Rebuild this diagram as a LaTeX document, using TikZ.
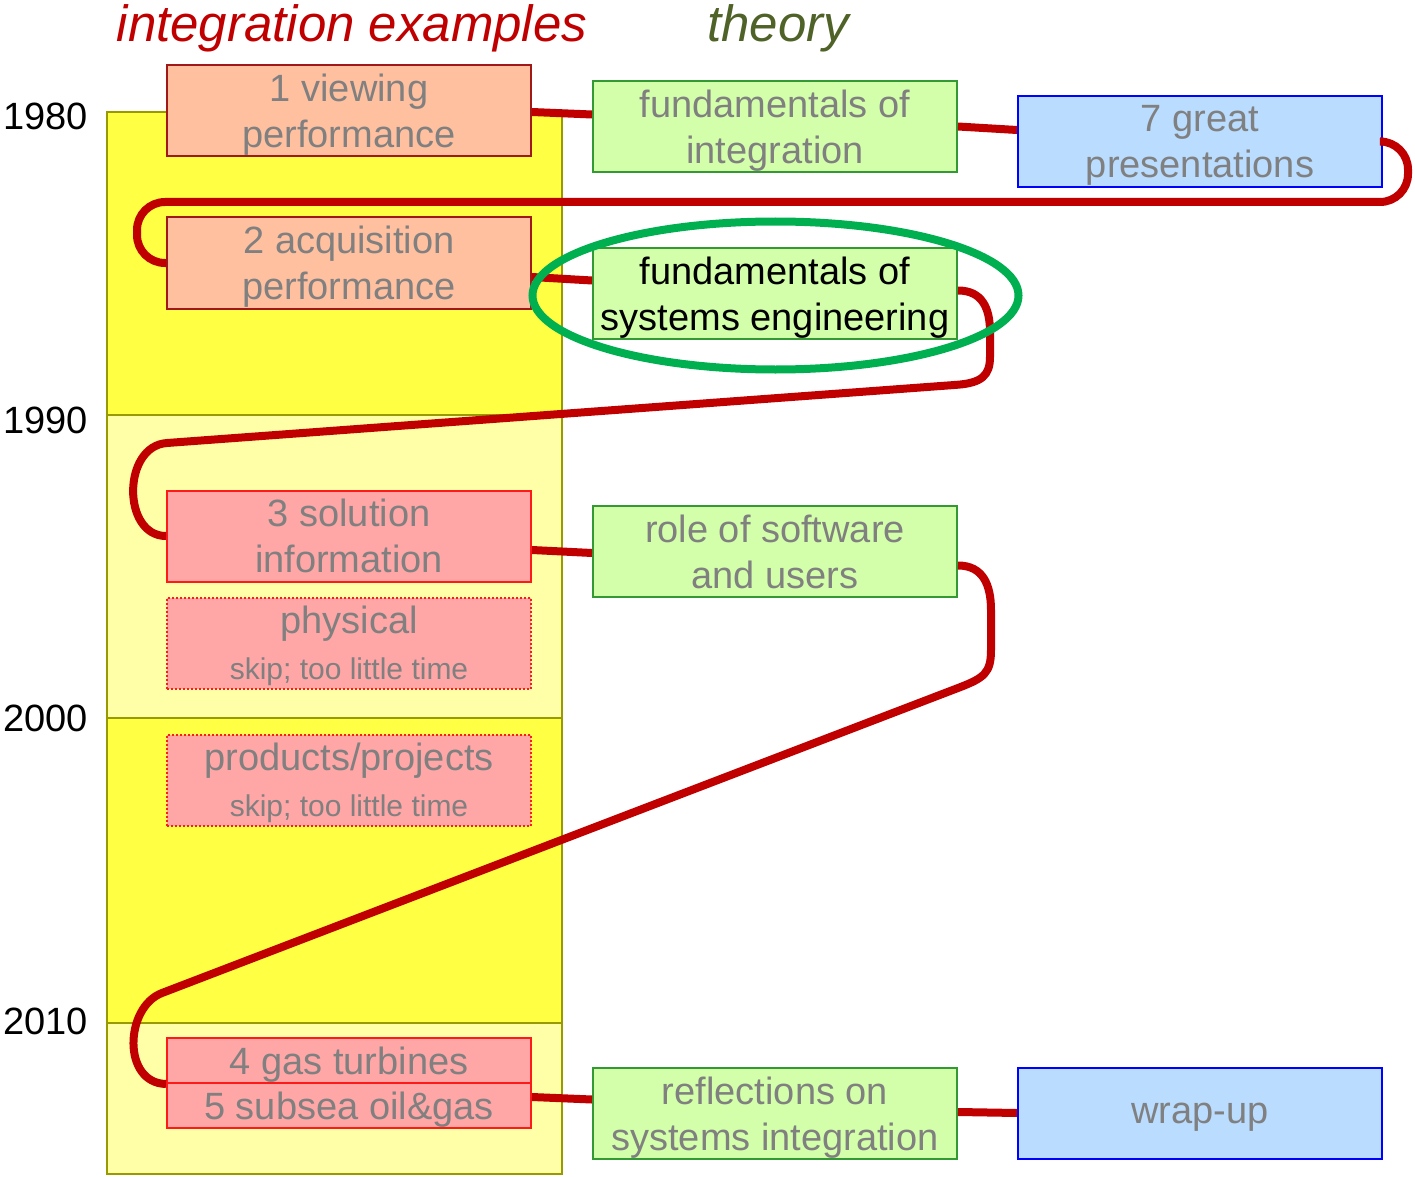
\documentclass[tikz,border=0pt]{standalone}
\usepackage{fontspec}
\setmainfont{Liberation Sans}
\usetikzlibrary{calc}

\definecolor{bandyellow}{HTML}{FFFF44}
\definecolor{bandlight}{HTML}{FFFFA8}
\definecolor{bandedge}{HTML}{999900}
\definecolor{salmonfill}{HTML}{FFC0A0}
\definecolor{salmonedge}{HTML}{A01818}
\definecolor{pinkfill}{HTML}{FFA6A6}
\definecolor{pinkedge}{HTML}{FF1A1A}
\definecolor{greenfill}{HTML}{D4FFAA}
\definecolor{greenedge}{HTML}{339933}
\definecolor{bluefill}{HTML}{B9DCFF}
\definecolor{blueedge}{HTML}{0000FF}
\definecolor{linkred}{HTML}{C00000}
\definecolor{ringgreen}{HTML}{00B050}
\definecolor{textgray}{HTML}{808080}
\definecolor{theorygreen}{HTML}{4F6228}

\begin{document}
\begin{tikzpicture}[x=0.5pt,y=-0.5pt,
  band/.style={draw=bandedge, line width=1pt},
  box/.style={rectangle, minimum width=182pt, minimum height=45.5pt, inner sep=0pt,
    line width=1pt, align=center, text=textgray, text depth=0pt,
    font=\fontsize{19}{23}\selectfont},
  halfbox/.style={box, minimum height=22.5pt},
  exold/.style={box, fill=salmonfill, draw=salmonedge},
  exnew/.style={box, fill=pinkfill, draw=pinkedge},
  exskip/.style={box, fill=pinkfill, draw=pinkedge, densely dotted},
  theorybox/.style={box, fill=greenfill, draw=greenedge},
  sessionbox/.style={box, fill=bluefill, draw=blueedge},
  year/.style={anchor=east, inner sep=0pt, font=\fontsize{19}{22}\selectfont},
  heading/.style={anchor=base, font=\fontsize{25.5}{30}\selectfont\itshape},
  link/.style={draw=linkred, line width=4pt},
  ring/.style={draw=ringgreen, line width=4pt}]
\useasboundingbox (0,0) rectangle (1415,1177);

% decade bands
\draw[band, fill=bandyellow] (107,112) rectangle (562,415);
\draw[band, fill=bandlight]  (107,415) rectangle (562,718);
\draw[band, fill=bandyellow] (107,718) rectangle (562,1023);
\draw[band, fill=bandlight]  (107,1023) rectangle (562,1174);

% column headings
\node[heading, text=linkred] (hexamples) at (352,42) {integration examples};
\node[heading, text=theorygreen] (htheory) at (778,42) {theory};

% years
\node[year] (y1980) at (88,116) {1980};
\node[year] (y1990) at (88,420) {1990};
\node[year] (y2000) at (88,718) {2000};
\node[year] (y2010) at (88,1021) {2010};

% boxes
\node[exold] (b1) at (349,111) {1 viewing\\performance};
\node[exold] (b2) at (349,263) {2 acquisition\\performance};
\node[exnew] (b3) at (349,536) {3 solution\\information};
\node[exskip] (phys) at (349,643) {physical\\\fontsize{15}{23}\selectfont skip; too little time};
\node[exskip] (prod) at (349,780) {products/projects\\\fontsize{15}{23}\selectfont skip; too little time};
\node[exnew, halfbox] (b4) at (349,1060.5) {4 gas turbines};
\node[exnew, halfbox] (b5) at (349,1105.5) {5 subsea oil\&gas};

\node[theorybox] (t1) at (775,126.5) {fundamentals of\\integration};
\node[theorybox, text=black] (t2) at (775,293.5) {fundamentals of\\systems engineering};
\node[theorybox] (t3) at (775,551.5) {role of software\\and users};
\node[theorybox] (t4) at (775,1113.5) {reflections on\\systems integration};

\node[sessionbox] (g1) at (1200,141.5) {7 great\\presentations};
\node[sessionbox] (g2) at (1200,1113.5) {wrap-up};

% course route
\draw[link] ($(b1.east)+(0,1)$) -- ($(t1.west)+(0,-12)$);
\draw[link] (t1.east) -- ($(g1.west)+(0,-11.5)$);
\draw[link, rounded corners=14pt] (g1.east) -- (1408,141.5) -- (1408,202) -- (137,202) -- (137,263) -- (b2.west);
\draw[link] ($(b2.east)+(0,14)$) -- ($(t2.west)+(0,-13)$);
\draw[link] ($(t2.east)+(0,-3)$) .. controls (982,290.5) and (990,308) .. (990,332)
  -- (990,357) .. controls (990,375) and (982,383) .. (957,384.8)
  -- (167,443) .. controls (122,446) and (122,536) .. (b3.west);
\draw[link] ($(b3.east)+(0,14)$) -- ($(t3.west)+(0,1.5)$);
\draw[link] ($(t3.east)+(0,14)$) .. controls (983,565.5) and (991,585) .. (991,610)
  -- (991,650) .. controls (991,673) and (984.2,678) .. (958,688)
  -- (162,993) .. controls (124.6,1007.3) and (122,1083) .. (b4.south west);
\draw[link] ($(b5.east)+(0,-8.5)$) -- ($(t4.west)+(0,-14)$);
\draw[link] ($(t4.east)+(0,-1.5)$) -- ($(g2.west)+(0,-0.5)$);

% highlight
\draw[ring] ($(t2.center)+(0.5,2)$) ellipse [x radius=121.5pt, y radius=37pt];
\end{tikzpicture}
\end{document}
